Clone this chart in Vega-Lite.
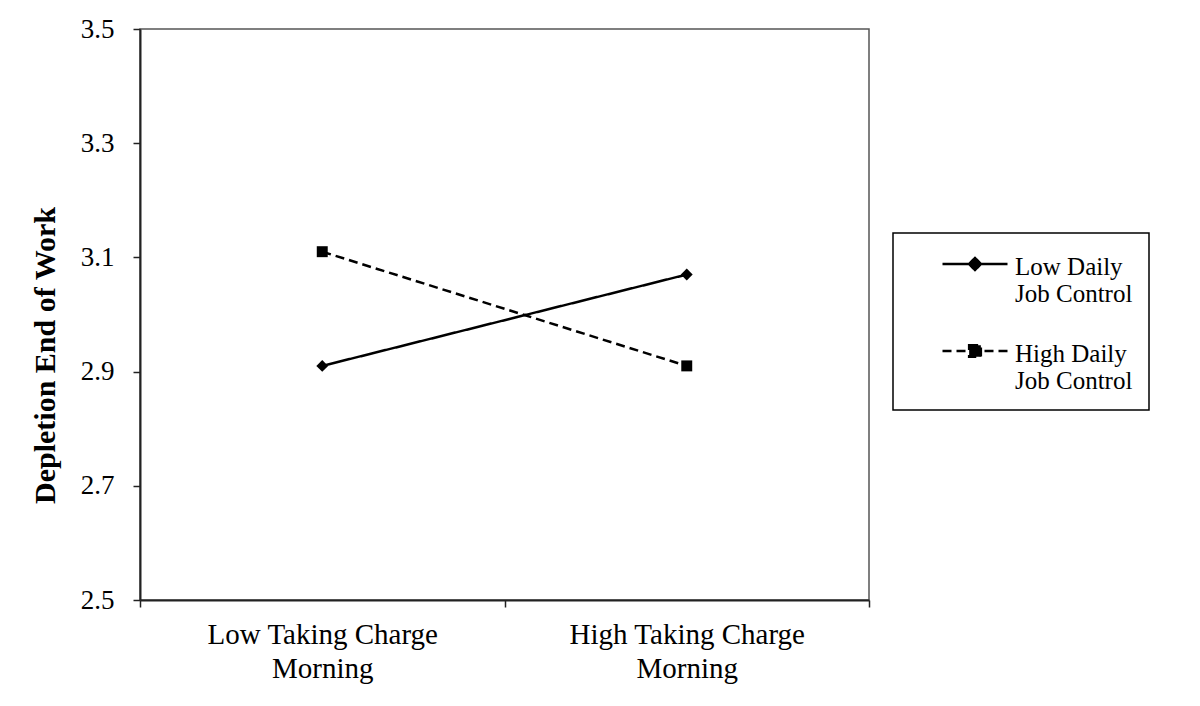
{
  "$schema": "https://vega.github.io/schema/vega-lite/v6.json",
  "description": "Interaction of morning taking charge and daily job control on end-of-work depletion.",
  "width": 729,
  "height": 571,
  "autosize": {"type": "none"},
  "padding": {"left": 140, "top": 29, "right": 331, "bottom": 106},
  "background": "white",
  "config": {
    "font": "Liberation Serif",
    "view": {"stroke": "#555", "strokeWidth": 1.5}
  },
  "data": {
    "values": [
      {"charge": "Low Taking Charge Morning", "group": "Low Daily Job Control", "depletion": 2.91},
      {"charge": "High Taking Charge Morning", "group": "Low Daily Job Control", "depletion": 3.07},
      {"charge": "Low Taking Charge Morning", "group": "High Daily Job Control", "depletion": 3.11},
      {"charge": "High Taking Charge Morning", "group": "High Daily Job Control", "depletion": 2.91}
    ]
  },
  "encoding": {
    "x": {
      "field": "charge",
      "type": "nominal",
      "bandPosition": 0.5,
      "sort": ["Low Taking Charge Morning", "High Taking Charge Morning"],
      "scale": {"type": "band", "paddingInner": 0, "paddingOuter": 0},
      "axis": {
        "title": null,
        "labelAngle": 0,
        "labelExpr": "datum.value == 'Low Taking Charge Morning' ? ['Low Taking Charge', 'Morning'] : datum.value == 'High Taking Charge Morning' ? ['High Taking Charge', 'Morning'] : ''",
        "labelFont": "Liberation Serif",
        "labelFontSize": 29,
        "labelLineHeight": 34,
        "labelLimit": 400,
        "labelColor": "black",
        "labelBaseline": "top",
        "labelPadding": 13,
        "tickBand": "extent",
        "tickSize": 7,
        "tickColor": "#222",
        "tickWidth": 1.5,
        "domainColor": "#222",
        "domainWidth": 2,
        "grid": false
      }
    },
    "y": {
      "field": "depletion",
      "type": "quantitative",
      "scale": {"domain": [2.5, 3.5], "nice": false, "zero": false},
      "axis": {
        "title": "Depletion End of Work",
        "titleFont": "Liberation Serif",
        "titleFontSize": 30,
        "titleFontWeight": "bold",
        "titleColor": "black",
        "titleAngle": -90,
        "titleAlign": "center",
        "titleBaseline": "middle",
        "titleX": -95,
        "titleY": 326,
        "values": [2.5, 2.7, 2.9, 3.1, 3.3, 3.5],
        "format": ".1f",
        "labelFont": "Liberation Serif",
        "labelFontSize": 27,
        "labelColor": "black",
        "labelPadding": 19,
        "tickSize": 7,
        "tickColor": "#222",
        "tickWidth": 1.5,
        "domainColor": "#222",
        "domainWidth": 2,
        "grid": false
      }
    }
  },
  "layer": [
    {
      "mark": {"type": "line", "color": "black", "strokeWidth": 2.5},
      "encoding": {
        "strokeDash": {
          "field": "group",
          "type": "nominal",
          "scale": {
            "domain": ["Low Daily Job Control", "High Daily Job Control"],
            "range": [[1, 0], [9, 5]]
          },
          "legend": {
            "title": null,
            "orient": "none",
            "legendX": 753,
            "legendY": 204,
            "strokeColor": "black",
            "padding": 16,
            "labelFont": "Liberation Serif",
            "labelFontSize": 25,
            "labelColor": "black",
            "labelLimit": 400,
            "labelBaseline": "top",
            "labelOffset": 6,
            "labelExpr": "datum.value == 'Low Daily Job Control' ? ['Low Daily', 'Job Control'] : ['High Daily', 'Job Control']",
            "symbolOffset": 32,
            "symbolSize": 4225,
            "symbolStrokeWidth": 2.5,
            "symbolStrokeColor": "black",
            "symbolFillColor": "black",
            "rowPadding": 29,
            "encode": {
              "symbols": {
                "update": {
                  "shape": {"signal": "datum.value == 'Low Daily Job Control' ? 'M-1,0H1M-0.185,0L0,-0.185L0.185,0L0,0.185Z' : 'M-1,0H1M-0.18,-0.18H0.18V0.18H-0.18Z'"},
                  "fill": {"value": "black"},
                  "stroke": {"value": "black"},
                  "y": {"value": 15}
                }
              },
              "labels": {
                "update": {
                  "y": {"value": 15},
                  "dy": {"value": -9},
                  "lineHeight": {"value": 27}
                }
              },
              "legend": {
                "update": {
                  "strokeWidth": {"value": 1.5},
                  "width": {"value": 253}
                }
              }
            }
          }
        }
      }
    },
    {
      "transform": [{"filter": "datum.group == 'Low Daily Job Control'"}],
      "mark": {"type": "point", "shape": "diamond", "filled": true, "color": "black", "opacity": 1, "size": 140}
    },
    {
      "transform": [{"filter": "datum.group == 'High Daily Job Control'"}],
      "mark": {"type": "point", "shape": "square", "filled": true, "color": "black", "opacity": 1, "size": 120}
    }
  ]
}
